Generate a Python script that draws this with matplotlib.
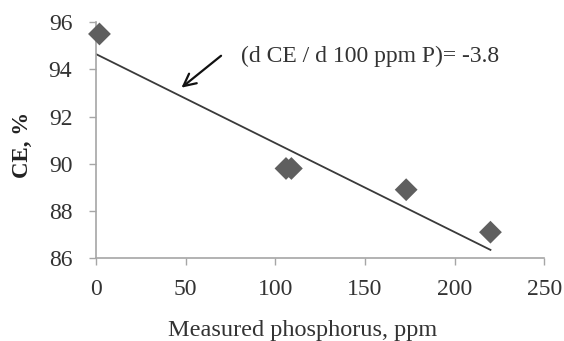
import matplotlib
matplotlib.use("Agg")
import matplotlib.pyplot as plt

# measured data
phosphorus = [2, 106, 109, 173, 220]
ce = [95.5, 89.8, 89.8, 88.9, 87.1]

# trend line end points
trend_x = [0, 220]
trend_y = [94.65, 86.35]

x_ticks = [0, 50, 100, 150, 200, 250]
y_ticks = [86, 88, 90, 92, 94, 96]

plt.rcParams["font.family"] = ["Liberation Serif", "DejaVu Serif"]

fig = plt.figure(figsize=(5.64, 3.41), dpi=100)
ax = fig.add_axes([0.170, 0.243, 0.795, 0.692])

ax.plot(trend_x, trend_y, color="#3a3a3a", linewidth=1.3, zorder=2)
ax.scatter(phosphorus, ce, marker="D", s=135, color="#5f5f5f", edgecolors="none",
           zorder=3, clip_on=False)

ax.set_xlim(0, 250)
ax.set_ylim(86, 96)
ax.set_xticks(x_ticks)
ax.set_yticks(y_ticks)

for side in ["top", "right"]:
    ax.spines[side].set_visible(False)
for side in ["left", "bottom"]:
    ax.spines[side].set_color("#a6a6a6")
    ax.spines[side].set_linewidth(1.2)

ax.tick_params(axis="both", direction="out", length=5, width=1.0, color="#a6a6a6",
               labelsize=17, labelcolor="#333333")
ax.tick_params(axis="x", pad=10)
ax.tick_params(axis="y", pad=12)

ax.set_xlabel("Measured phosphorus, ppm", fontsize=17.5, color="#333333")
ax.xaxis.set_label_coords(0.46, -0.262)
ax.set_ylabel("CE, %", fontsize=16.5, fontweight="bold", color="#222222")
ax.yaxis.set_label_coords(-0.14, 0.48)

ax.annotate("", xy=(46.5, 93.15), xytext=(71, 94.65),
            arrowprops=dict(arrowstyle="->", color="#111111", lw=1.6, mutation_scale=22))
ax.text(81, 94.55, "(d CE / d 100 ppm P)= -3.8", fontsize=17, color="#333333",
        ha="left", va="center")

fig.savefig("out.png", dpi=100)
